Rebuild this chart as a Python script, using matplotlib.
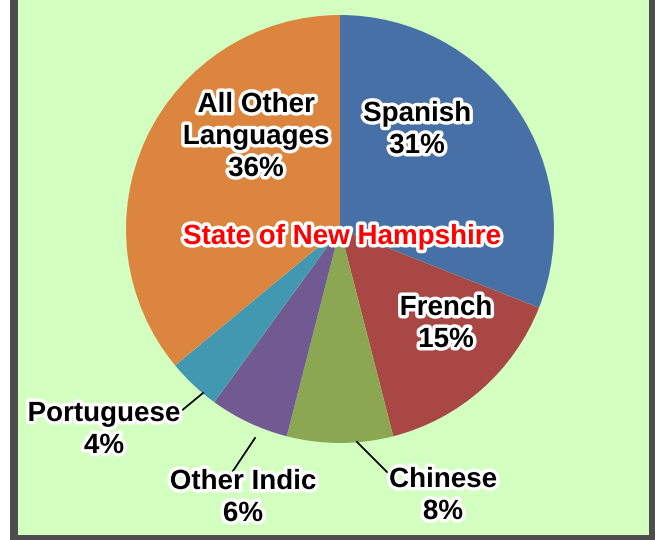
import matplotlib.pyplot as plt
import matplotlib.patches as mpatches
import matplotlib.patheffects as pe

# ------------------------------------------------------------
# Data
# ------------------------------------------------------------
languages = ["Spanish", "French", "Chinese", "Other Indic", "Portuguese",
             "All Other\nLanguages"]
shares = [31, 15, 8, 6, 4, 36]
colors = ["#4670A6", "#A84744", "#8BA752", "#715A92", "#4298B0", "#DC853E"]

title = "State of New Hampshire"

# label placement in pixel space (x, y from top), plus leader line ends
label_pos = [(417, 130), (446, 324), (443, 496), (243, 498), (104, 430), (256, 137)]
leaders = [None, None, ((357, 442), (388, 473)), ((255, 438), (233, 471)),
           ((203, 393), (180, 412)), None]

W, H = 655, 540
CX, CY, R = 340, 229, 214

plt.rcParams.update({
    "font.family": "Liberation Sans",
    "font.weight": "bold",
})

fig = plt.figure(figsize=(W / 100, H / 100), dpi=100)
fig.patch.set_facecolor("white")
ax = fig.add_axes([0, 0, 1, 1])
ax.set_xlim(0, W)
ax.set_ylim(0, H)
ax.axis("off")

# background panel with dark frame
ax.add_patch(mpatches.Rectangle((10, -5), W + 10, H + 10, facecolor="#4D4D4D",
                                edgecolor="none", zorder=0))
ax.add_patch(mpatches.Rectangle((18, 5), 631, H, facecolor="#D3FFC0",
                                edgecolor="none", zorder=0.5))

wedges, _ = ax.pie(shares, colors=colors, startangle=90, counterclock=False,
                   center=(CX, H - CY), radius=R, frame=True,
                   wedgeprops=dict(edgecolor="none", linewidth=0))
ax.set_xlim(0, W)
ax.set_ylim(0, H)
ax.set_aspect("equal")
ax.axis("off")

outline = [pe.withStroke(linewidth=5, foreground="white")]

for name, val, (px, py) in zip(languages, shares, label_pos):
    ax.text(px, H - py, f"{name}\n{val}%", ha="center", va="center",
            fontsize=20, fontweight="bold", color="black",
            linespacing=1.3, path_effects=outline, zorder=5)

for seg in leaders:
    if seg is None:
        continue
    (x0, y0), (x1, y1) = seg
    ax.plot([x0, x1], [H - y0, H - y1], color="black", lw=1.3, zorder=4)

ax.text(342, H - 237, title, ha="center", va="center", fontsize=20,
        fontweight="bold", color="#FF0000", path_effects=outline, zorder=5)

fig.savefig("out.png", dpi=100)
